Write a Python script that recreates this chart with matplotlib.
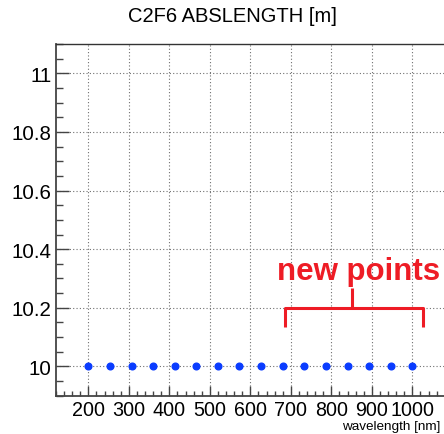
import matplotlib
matplotlib.use("Agg")
import matplotlib.pyplot as plt
from matplotlib.ticker import MultipleLocator

plt.rcParams['font.family'] = ['Liberation Sans', 'DejaVu Sans']

# absorption length of C2F6 vs wavelength
wavelength = [200.0, 253.3, 306.7, 360.0, 413.3, 466.7, 520.0, 573.3,
              626.7, 680.0, 733.3, 786.7, 840.0, 893.3, 946.7, 1000.0]
abslength = [10.0] * 16

x_ticks = [200, 300, 400, 500, 600, 700, 800, 900, 1000]
y_ticks = [10.0, 10.2, 10.4, 10.6, 10.8, 11.0]
y_ticklabels = ['10', '10.2', '10.4', '10.6', '10.8', '11']

# bracket marking the newly added points
bracket_left, bracket_right, bracket_mid = 686, 1026, 852
bracket_y, bracket_foot, bracket_stem = 10.198, 10.133, 10.268
note_x, note_y = 666, 10.298

W, H = 444, 435
fig = plt.figure(figsize=(W / 100, H / 100), dpi=100)
ax = fig.add_axes([55.9 / W, 1 - 396.7 / H, (444.7 - 55.9) / W, (396.7 - 45) / H])

ax.plot(wavelength, abslength, 'o', color='#0a3cff', markersize=4.8, zorder=5)

ax.set_xlim(120, 1080)
ax.set_ylim(9.9, 11.1)
ax.set_xticks(x_ticks)
ax.set_yticks(y_ticks)
ax.set_yticklabels(y_ticklabels)
ax.xaxis.set_minor_locator(MultipleLocator(20))
ax.yaxis.set_minor_locator(MultipleLocator(0.05))

ax.tick_params(axis='x', which='major', direction='in', length=7, width=1,
               labelsize=14.2, pad=3, color='#444444')
ax.tick_params(axis='x', which='minor', direction='in', length=3.6, width=1,
               color='#444444')
ax.tick_params(axis='y', which='major', direction='in', length=9.5, width=1,
               labelsize=14.8, pad=3, color='#444444')
ax.tick_params(axis='y', which='minor', direction='in', length=5, width=1,
               color='#444444')

ax.grid(which='major', linestyle=(0, (1, 2)), linewidth=0.8, color='#707070')

for side in ['left', 'bottom']:
    ax.spines[side].set_linewidth(1.3)
    ax.spines[side].set_color('#444444')
ax.spines['top'].set_linewidth(1.0)
ax.spines['top'].set_color('#333333')
ax.spines['right'].set_visible(False)

red = '#ee1c25'
ax.plot([bracket_left, bracket_left, bracket_right, bracket_right],
        [bracket_foot, bracket_y, bracket_y, bracket_foot],
        color=red, linewidth=2.2, solid_capstyle='butt', zorder=6)
ax.plot([bracket_mid, bracket_mid], [bracket_y, bracket_stem],
        color=red, linewidth=2.2, solid_capstyle='butt', zorder=6)
ax.text(note_x, note_y, 'new points', color=red, fontsize=22.5,
        fontweight='bold', ha='left', va='baseline', zorder=6)

fig.text(232 / W, 1 - 16.3 / H, 'C2F6 ABSLENGTH [m]', ha='center', va='center',
         fontsize=14.5)
fig.text(440 / W, 1 - 433.5 / H, 'wavelength [nm]', ha='right', va='bottom',
         fontsize=9.7)

fig.savefig('out.png', dpi=100)
